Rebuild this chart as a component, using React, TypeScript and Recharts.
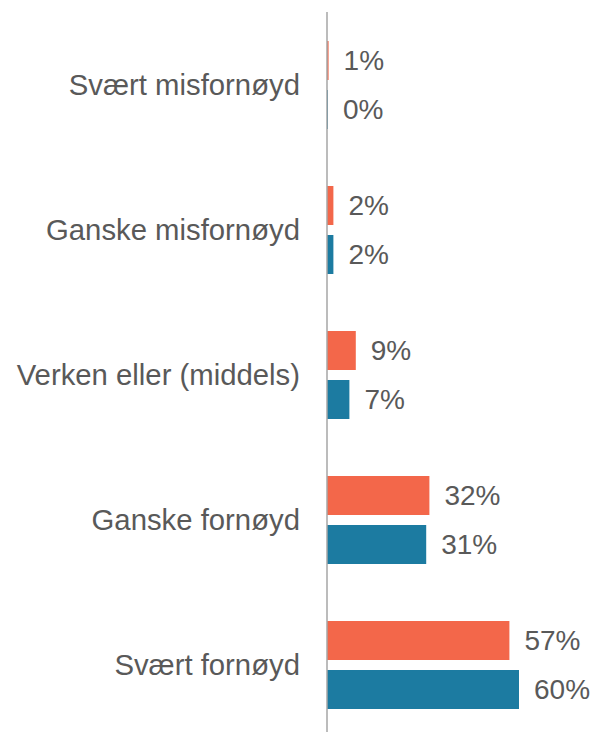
import { BarChart, Bar, XAxis, YAxis, LabelList } from 'recharts';

// Survey answer categories, top to bottom
const categories = [
  'Svært misfornøyd',
  'Ganske misfornøyd',
  'Verken eller (middels)',
  'Ganske fornøyd',
  'Svært fornøyd',
];

// Share of respondents (%), first group (orange) and second group (blue)
const seriesA = [0.5, 2, 9, 32, 57];
const seriesB = [0.3, 2, 7, 31, 60];

const data = categories.map((name, i) => ({ name, a: seriesA[i], b: seriesB[i] }));

const TEXT = '#595959';
const FONT = '"Liberation Sans", Arial, sans-serif';

function formatPct(v: unknown): string {
  return `${Math.round(Number(v))}%`;
}

export default function App() {
  return (
    <div style={{ position: 'absolute', left: 0, top: 0, background: '#fff' }}>
      <BarChart
        width={595}
        height={750}
        data={data}
        layout="vertical"
        margin={{ top: 12, right: 12, bottom: 13, left: 0 }}
        barSize={39}
        barGap={10}
        style={{ fontFamily: FONT }}
      >
        <XAxis type="number" domain={[0, 80]} hide />
        <YAxis
          type="category"
          dataKey="name"
          width={327}
          tickLine={false}
          tickSize={0}
          tickMargin={27}
          axisLine={{ stroke: '#a6a6a6', strokeWidth: 1.5 }}
          tick={{ fill: TEXT, fontSize: 29.3, fontFamily: FONT }}
        />
        <Bar dataKey="a" fill="#F3674A" isAnimationActive={false}>
          <LabelList
            dataKey="a"
            position="right"
            offset={15}
            formatter={formatPct}
            fill={TEXT}
            fontSize={28}
            fontFamily={FONT}
          />
        </Bar>
        <Bar dataKey="b" fill="#1C7BA1" isAnimationActive={false}>
          <LabelList
            dataKey="b"
            position="right"
            offset={15}
            formatter={formatPct}
            fill={TEXT}
            fontSize={28}
            fontFamily={FONT}
          />
        </Bar>
      </BarChart>
    </div>
  );
}
